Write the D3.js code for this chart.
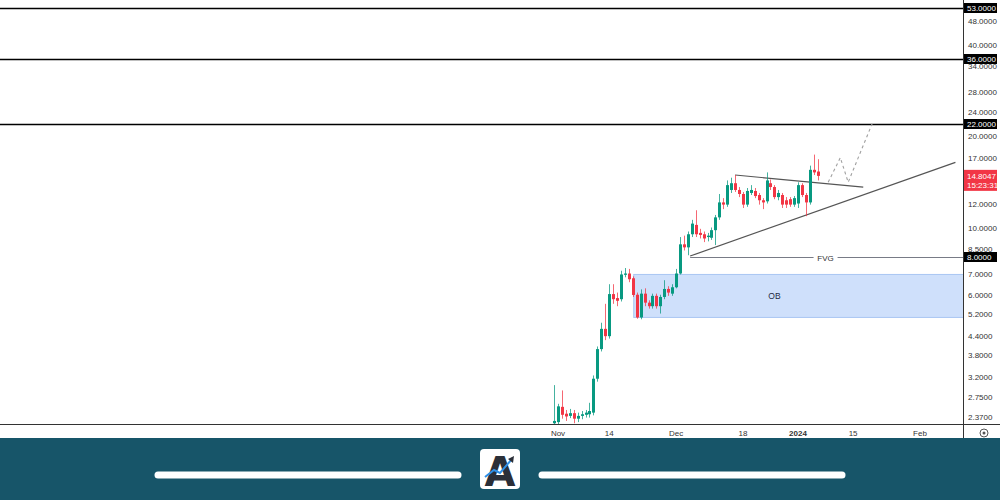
<!DOCTYPE html>
<html><head><meta charset="utf-8">
<script src="https://cdn.jsdelivr.net/npm/d3@7/dist/d3.min.js"></script>
<style>
html,body{margin:0;padding:0;background:#fff;}
svg{display:block;font-family:"Liberation Sans",Arial,sans-serif;}
</style></head>
<body>
<svg id="c" width="1000" height="500"></svg>
<script>
// ---------- data ----------
const startDay = "2023-10-31";
const open  = [2.26,2.28,2.56,2.43,2.39,2.44,2.34,2.39,2.41,2.42,2.45,3.17,3.97,4.63,4.38,6.03,5.85,5.80,6.98,7.05,6.80,6.00,5.05,6.05,5.65,5.50,5.95,5.50,5.90,6.27,6.05,6.35,7.05,8.80,8.60,9.50,10.20,9.60,9.50,9.30,9.25,9.80,10.80,12.10,11.90,13.30,14.00,13.30,12.90,11.90,13.00,13.20,12.80,12.30,12.20,14.00,13.60,12.60,12.80,12.30,12.40,11.90,12.00,13.80,12.80,12.10,15.50,15.30];
const high  = [3.02,2.62,2.90,2.50,2.52,2.50,2.45,2.48,2.50,2.64,3.25,4.05,4.85,5.60,6.50,6.50,6.10,7.20,7.35,7.30,6.90,6.10,6.25,6.30,5.75,6.05,6.05,6.00,6.70,6.40,6.50,7.30,9.30,9.40,9.70,10.60,11.40,9.90,9.70,9.60,10.00,11.00,12.90,12.50,14.30,14.60,14.90,13.60,13.10,13.50,13.80,13.50,13.00,12.50,15.20,14.40,13.80,13.30,13.00,12.60,12.60,12.70,14.10,14.00,13.00,16.00,17.40,16.80];
const low   = [2.20,2.22,2.34,2.30,2.35,2.26,2.28,2.33,2.36,2.36,2.40,3.10,3.90,4.25,4.30,5.60,5.50,5.70,6.85,6.60,5.90,5.00,4.98,5.50,5.40,5.40,5.40,5.20,5.80,5.95,5.95,6.30,7.00,8.40,8.10,9.30,9.30,9.20,8.95,9.00,9.10,8.75,10.60,11.50,11.70,13.00,13.10,12.60,11.60,11.70,12.80,12.50,11.90,11.50,12.00,13.30,12.40,12.30,11.60,11.60,11.70,11.70,11.60,12.60,10.90,11.90,14.90,14.30];
const close = [2.30,2.57,2.41,2.38,2.44,2.34,2.39,2.42,2.45,2.48,3.17,3.97,4.63,4.38,6.03,5.80,5.73,7.00,7.05,6.75,5.99,5.05,6.05,5.65,5.50,5.95,5.50,5.90,6.27,6.10,6.35,7.05,8.80,8.60,9.50,10.30,9.50,9.45,9.20,9.40,9.80,10.80,12.10,11.90,13.80,14.00,13.30,12.90,11.90,13.20,13.30,12.70,12.30,12.10,14.30,13.60,12.60,13.00,11.90,11.90,11.90,12.50,13.80,12.80,12.10,15.50,15.20,14.80];

const levels = [53, 36, 22, 8];          // boxed price levels
const boldLevels = [53, 36, 22];         // full-width black lines
const yTickVals = [48,40,34,28,24,20,17,12,10,8.5,7,6,5.2,4.4,3.8,3.2,2.75,2.37];
const lastPrice = 14.8047;
const countdown = "15:23:31";

const xTickDates = ["2023-11-01","2023-11-14","2023-12-01","2023-12-18","2024-01-01","2024-01-15","2024-02-01"];
const xTickLabels = ["Nov","14","Dec","18","2024","15","Feb"];

// zones / drawings
const obZone = {from:"2023-11-20T06:00", to:"2024-03-01", top:7.0, bottom:5.05, label:"OB", labelAt:"2023-12-26"};
const fvgLine = {from:"2023-12-04T14:00", to:"2024-03-01", value:8.0, label:"FVG", labelAt:"2024-01-08"};
const triTopDates = ["2023-12-16","2024-01-17T14:00"], triTopVals = [14.9, 13.6];
const triBotDates = ["2023-12-04T14:00","2024-02-10"], triBotVals = [8.05, 16.4];
const projDates = ["2024-01-08T16:00","2024-01-11T18:00","2024-01-13T18:00","2024-01-19T20:00"];
const projVals = [14.1, 17.0, 14.1, 22.0];

// ---------- scales ----------
const svg = d3.select("#c");
const W = 1000, H = 500, plotR = 963, plotB = 424;
const P = d => new Date(d + (d.length<=10 ? "T00:00:00Z" : "Z"));
const x = d3.scaleUtc().domain([P("2023-11-01"), P("2024-02-01")]).range([558, 920]);
const y = d3.scaleLog().domain([2.37, 53]).range([417, 8]);

const days = d3.utcDay.range(P(startDay), d3.utcDay.offset(P(startDay), close.length));
const candles = days.map((d,i)=>({d, o:open[i], h:high[i], l:low[i], c:close[i]}));

const UP = "#089981", DN = "#f23645";

svg.append("rect").attr("width",W).attr("height",H).attr("fill","#fff");

const defs = svg.append("defs");
defs.append("clipPath").attr("id","plot").append("rect").attr("x",0).attr("y",0).attr("width",plotR).attr("height",plotB);
const g = svg.append("g").attr("clip-path","url(#plot)");

// OB zone
g.append("rect")
  .attr("x", x(P(obZone.from))).attr("y", y(obZone.top))
  .attr("width", x(P(obZone.to)) - x(P(obZone.from)))
  .attr("height", y(obZone.bottom) - y(obZone.top))
  .attr("fill","#cfe0fb").attr("stroke","#a9c6f3").attr("stroke-width",1);
g.append("text").attr("x", x(P(obZone.labelAt))).attr("y", (y(obZone.top)+y(obZone.bottom))/2 + 3)
  .attr("text-anchor","middle").attr("font-size",8.5).attr("fill","#1f2a44").text(obZone.label);

// bold level lines
g.selectAll("line.lvl").data(boldLevels).join("line")
  .attr("x1",0).attr("x2",plotR).attr("y1",d=>Math.round(y(d))+0.5).attr("y2",d=>Math.round(y(d))+0.5)
  .attr("stroke","#000").attr("stroke-width",1.6);

// FVG line with label gap
const fy = Math.round(y(fvgLine.value))+0.5, fl = x(P(fvgLine.labelAt));
g.append("line").attr("x1",x(P(fvgLine.from))).attr("x2",fl-12).attr("y1",fy).attr("y2",fy).attr("stroke","#787b86").attr("stroke-width",1);
g.append("line").attr("x1",fl+12).attr("x2",x(P(fvgLine.to))).attr("y1",fy).attr("y2",fy).attr("stroke","#787b86").attr("stroke-width",1);
g.append("text").attr("x",fl).attr("y",fy+3).attr("text-anchor","middle").attr("font-size",8).attr("fill","#333").text(fvgLine.label);

// triangle lines
const ln = d3.line().x(d=>x(P(d[0]))).y(d=>y(d[1]));
g.append("path").attr("d", ln(triTopDates.map((d,i)=>[d,triTopVals[i]]))).attr("fill","none").attr("stroke","#555").attr("stroke-width",1.2);
g.append("path").attr("d", ln(triBotDates.map((d,i)=>[d,triBotVals[i]]))).attr("fill","none").attr("stroke","#555").attr("stroke-width",1.2);

// projection dashed path
g.append("path").attr("d", ln(projDates.map((d,i)=>[d,projVals[i]]))).attr("fill","none")
  .attr("stroke","#a0a0a0").attr("stroke-width",1.1).attr("stroke-dasharray","3,3");

// candles
const bw = 3;
const cg = g.append("g");
cg.selectAll("line.w").data(candles).join("line")
  .attr("x1",d=>Math.round(x(d.d))+0.5).attr("x2",d=>Math.round(x(d.d))+0.5)
  .attr("y1",d=>y(d.h)).attr("y2",d=>y(d.l))
  .attr("stroke",d=>d.c>=d.o?UP:DN).attr("stroke-width",1).attr("opacity",0.75);
cg.selectAll("rect.b").data(candles).join("rect")
  .attr("x",d=>Math.round(x(d.d))-1).attr("width",bw)
  .attr("y",d=>y(Math.max(d.o,d.c)))
  .attr("height",d=>Math.max(1, y(Math.min(d.o,d.c)) - y(Math.max(d.o,d.c))))
  .attr("fill",d=>d.c>=d.o?UP:DN);

// axes frame
svg.append("line").attr("x1",plotR+0.5).attr("x2",plotR+0.5).attr("y1",0).attr("y2",438).attr("stroke","#333").attr("stroke-width",1);
svg.append("line").attr("x1",0).attr("x2",W).attr("y1",plotB+0.5).attr("y2",plotB+0.5).attr("stroke","#333").attr("stroke-width",1);

// y tick labels
svg.append("g").selectAll("text").data(yTickVals).join("text")
  .attr("x",968).attr("y",d=>y(d)+3).attr("font-size",8).attr("fill","#333")
  .text(d=>d3.format(".4f")(d));

// boxed levels
const lb = svg.append("g").selectAll("g").data(levels).join("g").attr("transform",d=>`translate(964,${Math.round(y(d))})`);
lb.append("rect").attr("x",0).attr("y",-5).attr("width",33).attr("height",10).attr("fill","#000");
lb.append("text").attr("x",3).attr("y",3).attr("font-size",8).attr("fill","#fff").text(d=>d3.format(".4f")(d));

// current price label
const ly = y(lastPrice);
svg.append("rect").attr("x",964).attr("y",ly-6).attr("width",33).attr("height",21).attr("fill",DN);
svg.append("text").attr("x",967).attr("y",ly+3).attr("font-size",8).attr("fill","#fff").text(lastPrice.toFixed(4));
svg.append("text").attr("x",967).attr("y",ly+12).attr("font-size",8).attr("fill","#fff").text(countdown);

// x tick labels
svg.append("g").selectAll("text").data(xTickDates).join("text")
  .attr("x",d=>x(P(d))).attr("y",436).attr("text-anchor","middle").attr("font-size",8)
  .attr("font-weight",(d,i)=>xTickLabels[i]==="2024"?"bold":"normal").attr("fill","#333")
  .text((d,i)=>xTickLabels[i]);
// settings icon
svg.append("circle").attr("cx",984).attr("cy",433).attr("r",4).attr("fill","none").attr("stroke","#555").attr("stroke-width",1);
svg.append("circle").attr("cx",984).attr("cy",433).attr("r",1.5).attr("fill","#555");

// footer
svg.append("rect").attr("x",0).attr("y",438).attr("width",W).attr("height",62).attr("fill","#175569");
svg.append("line").attr("x1",158).attr("x2",458).attr("y1",475).attr("y2",475).attr("stroke","#fff").attr("stroke-width",7).attr("stroke-linecap","round");
svg.append("line").attr("x1",542).attr("x2",842).attr("y1",475).attr("y2",475).attr("stroke","#fff").attr("stroke-width",7).attr("stroke-linecap","round");
svg.append("rect").attr("x",480).attr("y",449).attr("width",40).attr("height",40).attr("rx",4).attr("fill","#fff");
svg.append("text").attr("x",500).attr("y",486).attr("text-anchor","middle").attr("font-size",40).attr("font-weight","bold")
  .attr("font-family","DejaVu Sans, sans-serif").attr("fill","#2b2f38").text("A");
svg.append("path").attr("d","M485,477 L494,470 L500,473 L512,459").attr("fill","none").attr("stroke","#2f8fe6").attr("stroke-width",2);
svg.append("path").attr("d","M508,459 L514,456 L513,463 Z").attr("fill","#2b2f38");
</script>
</body></html>
